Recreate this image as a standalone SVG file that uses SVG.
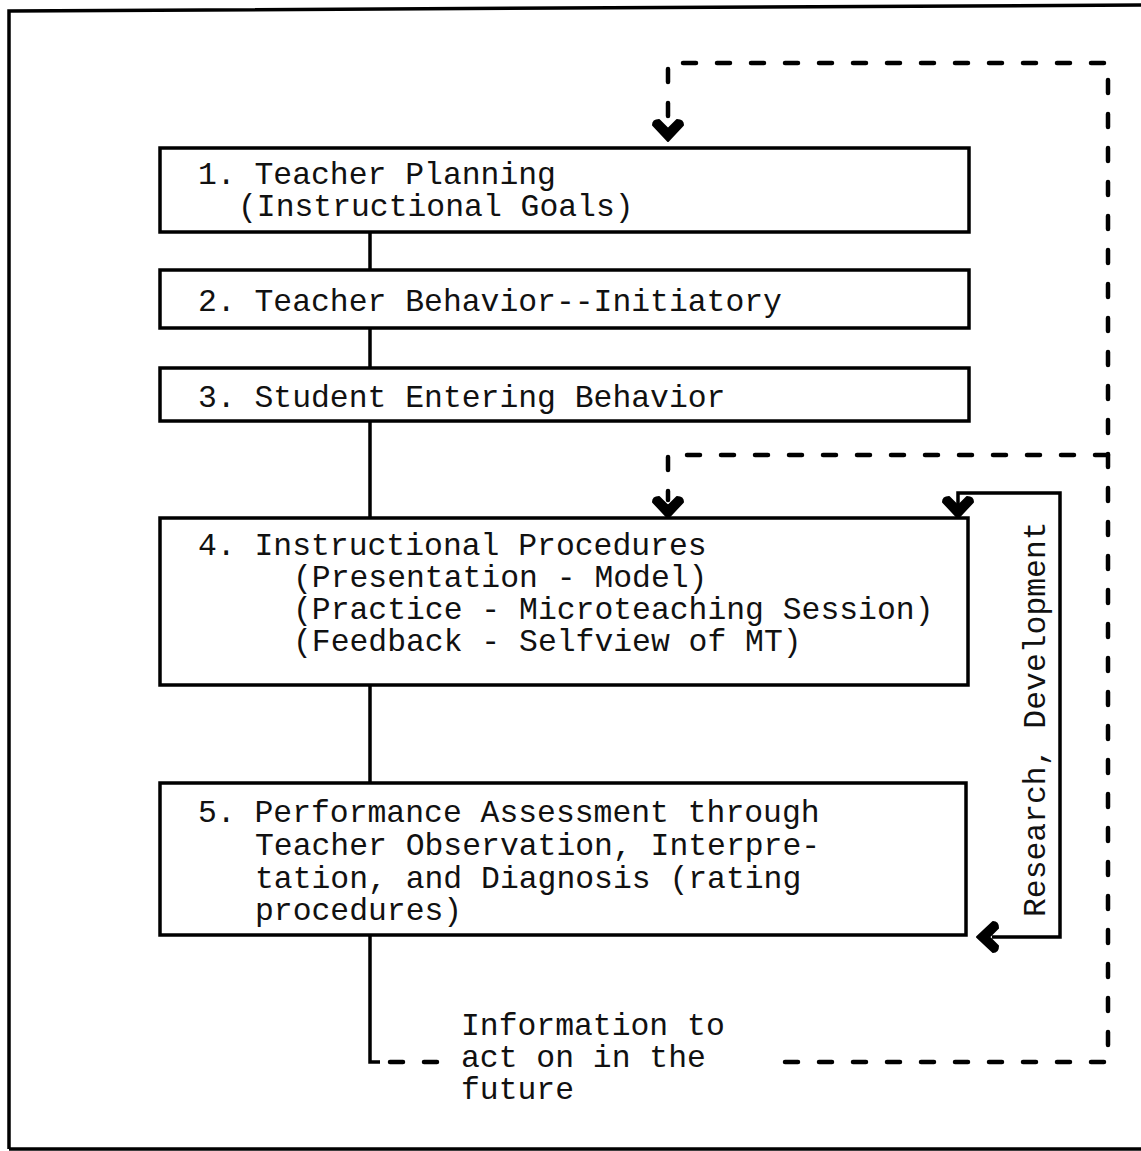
<svg xmlns="http://www.w3.org/2000/svg" width="1141" height="1151" viewBox="0 0 1141 1151">
  <style>
    .box { fill: #fff; stroke: #000; stroke-width: 3.5; }
    .solid { fill: none; stroke: #000; stroke-width: 3.5; }
    .dash { fill: none; stroke: #000; stroke-width: 4.5; stroke-dasharray: 13 21; stroke-linecap: round; }
    .head { fill: #000; stroke: #000; stroke-width: 2; stroke-linejoin: round; }
    text { font-family: "Liberation Mono", "DejaVu Sans Mono", monospace; font-size: 31.4px; fill: #111; }
  </style>
  <defs>
    <!-- bold chevron arrowhead, tip at origin, pointing along +x -->
    <path id="chev" d="M1,0 L-15,-15 Q-20,-15 -20,-9 L-11,0 L-20,9 Q-20,15 -15,15 Z"/>
  </defs>

  <!-- page frame -->
  <path class="solid" d="M9,1149 L9,11 L1141,5 M9,1149 L1141,1149"/>

  <g id="connectors">
    <!-- main solid spine -->
    <path class="solid" d="M370,232 L370,270 M370,328 L370,368 M370,421 L370,518 M370,685 L370,783 M370,935 L370,1062 L380,1062"/>
    <!-- feedback loop: bottom dashes, right side, top return -->
    <path class="dash" d="M390,1062 L445,1062"/>
    <path class="dash" d="M785,1062 L1108,1062 L1108,63 L668,63 L668,122"/>
    <!-- branch to box 4 -->
    <path class="dash" d="M1108,455 L668,455 L668,500"/>
    <!-- research / development loop -->
    <path class="solid" d="M958,506 L958,493 L1060,493 L1060,937 L992,937"/>
    <!-- arrowheads -->
    <use href="#chev" class="head" transform="translate(668,140) rotate(90)"/>
    <use href="#chev" class="head" transform="translate(668,517) rotate(90)"/>
    <use href="#chev" class="head" transform="translate(958,517) rotate(90)"/>
    <use href="#chev" class="head" transform="translate(978,937) rotate(180)"/>
  </g>

  <g id="box1">
    <rect class="box" x="160" y="148" width="809" height="84"/>
    <text x="198" y="184">1. Teacher Planning</text>
    <text x="238" y="216">(Instructional Goals)</text>
  </g>

  <g id="box2">
    <rect class="box" x="160" y="270" width="809" height="58"/>
    <text x="198" y="311">2. Teacher Behavior--Initiatory</text>
  </g>

  <g id="box3">
    <rect class="box" x="160" y="368" width="809" height="53"/>
    <text x="198" y="407">3. Student Entering Behavior</text>
  </g>

  <g id="box4">
    <rect class="box" x="160" y="518" width="808" height="167"/>
    <text x="198" y="555">4. Instructional Procedures</text>
    <text x="293" y="587">(Presentation - Model)</text>
    <text x="293" y="619">(Practice - Microteaching Session)</text>
    <text x="293" y="651">(Feedback - Selfview of MT)</text>
  </g>

  <g id="box5">
    <rect class="box" x="160" y="783" width="806" height="152"/>
    <text x="198" y="822">5. Performance Assessment through</text>
    <text x="255" y="855">Teacher Observation, Interpre-</text>
    <text x="255" y="888">tation, and Diagnosis (rating</text>
    <text x="255" y="920">procedures)</text>
  </g>

  <g id="loop-label">
    <text transform="translate(1045,917) rotate(-90)">Research, Development</text>
  </g>

  <g id="info-label">
    <text x="461" y="1035">Information to</text>
    <text x="461" y="1067">act on in the</text>
    <text x="461" y="1099">future</text>
  </g>
</svg>
